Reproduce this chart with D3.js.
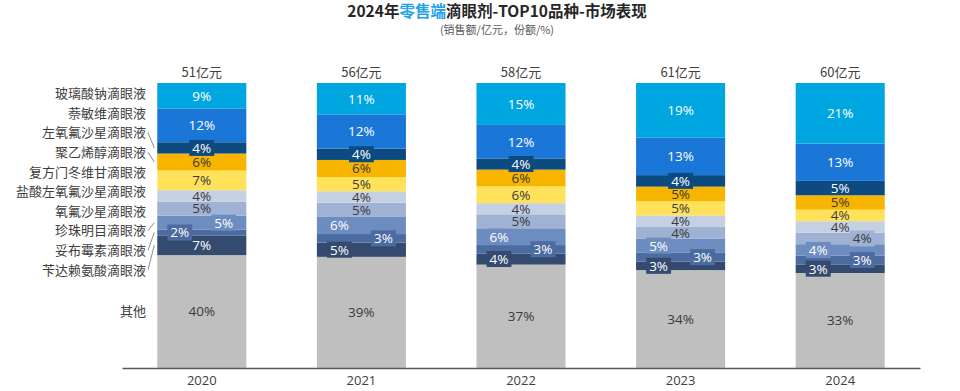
<!DOCTYPE html>
<html>
<head>
<meta charset="utf-8">
<script src="https://cdn.jsdelivr.net/npm/d3@7"></script>
<style>
  body { margin: 0; background: #fff; }
  svg { display: block; font-family: "Noto Sans CJK SC", "Noto Sans", sans-serif; }
</style>
</head>
<body>
<figure style="margin:0"></figure>
<script>
const years = ["2020", "2021", "2022", "2023", "2024"];
const totals = [51, 56, 58, 61, 60];

// bottom to top
const series = [
  "其他",
  "苄达赖氨酸滴眼液",
  "妥布霉素滴眼液",
  "珍珠明目滴眼液",
  "氧氟沙星滴眼液",
  "盐酸左氧氟沙星滴眼液",
  "复方门冬维甘滴眼液",
  "聚乙烯醇滴眼液",
  "左氧氟沙星滴眼液",
  "萘敏维滴眼液",
  "玻璃酸钠滴眼液",
];

const shares = [
  [40, 39, 37, 34, 33],
  [7, 5, 4, 3, 3],
  [2, 3, 3, 3, 3],
  [5, 6, 6, 5, 4],
  [5, 5, 5, 4, 4],
  [4, 4, 4, 4, 4],
  [7, 5, 6, 5, 4],
  [6, 6, 6, 5, 5],
  [4, 4, 4, 4, 5],
  [12, 12, 12, 13, 13],
  [9, 11, 15, 19, 21],
];

const colors = [
  "#bfbfbf", "#344a6e", "#4b6ba1", "#6d8cbf", "#9fb2d4", "#c6d0e3",
  "#ffe25a", "#f8b500", "#0c4a7f", "#1a77d8", "#00a6e0",
];
const darkText = new Set(["其他", "氧氟沙星滴眼液", "盐酸左氧氟沙星滴眼液", "复方门冬维甘滴眼液", "聚乙烯醇滴眼液"]);

// labels pushed left (-1) or right (+1) of the bar centre
const sideLabels = {
  "2020|珍珠明目滴眼液": 1, "2020|妥布霉素滴眼液": -1,
  "2021|珍珠明目滴眼液": -1, "2021|妥布霉素滴眼液": 1, "2021|苄达赖氨酸滴眼液": -1,
  "2022|珍珠明目滴眼液": -1, "2022|妥布霉素滴眼液": 1, "2022|苄达赖氨酸滴眼液": -1,
  "2023|珍珠明目滴眼液": -1, "2023|妥布霉素滴眼液": 1, "2023|苄达赖氨酸滴眼液": -1,
  "2024|氧氟沙星滴眼液": 1, "2024|珍珠明目滴眼液": -1, "2024|妥布霉素滴眼液": 1, "2024|苄达赖氨酸滴眼液": -1,
};
const leaderKeys = ["左氧氟沙星滴眼液", "聚乙烯醇滴眼液", "珍珠明目滴眼液", "妥布霉素滴眼液", "苄达赖氨酸滴眼液"];

const width = 960;
const height = 391;

const svg = d3.select("figure").append("svg").attr("width", width).attr("height", height);

const x = d3.scaleBand().domain(years).range([122, 920]).paddingInner(0.442).paddingOuter(0.221);
const y = d3.scaleLinear().domain([0, 1]).range([368, 83]);

const table = years.map((yr, i) => {
  const row = { year: yr };
  series.forEach((s, j) => (row[s] = shares[j][i]));
  return row;
});

const stacked = d3.stack().keys(series).offset(d3.stackOffsetExpand)(table);

// title
const title = svg.append("text")
  .attr("x", 497).attr("y", 17)
  .attr("text-anchor", "middle")
  .style("font-size", "15.5px").style("font-weight", "bold").style("fill", "#262626");
title.append("tspan").text("2024年");
title.append("tspan").text("零售端").style("fill", "#1ea2e6");
title.append("tspan").text("滴眼剂-TOP10品种-市场表现");

svg.append("text")
  .attr("x", 497).attr("y", 34)
  .attr("text-anchor", "middle")
  .style("font-size", "11px").style("fill", "#595959")
  .text("(销售额/亿元，份额/%)");

// bars
svg.append("g")
  .selectAll("g")
  .data(stacked)
  .join("g")
  .attr("fill", (d, i) => colors[i])
  .selectAll("rect")
  .data((d) => d)
  .join("rect")
  .attr("x", (d) => x(d.data.year))
  .attr("y", (d) => y(d[1]))
  .attr("width", x.bandwidth())
  .attr("height", (d) => y(d[0]) - y(d[1]));

// value labels
const labelLayer = svg.append("g").style("font-family", "'Open Sans', 'Noto Sans', sans-serif").style("font-size", "13.5px");
stacked.forEach((layer, i) => {
  const key = layer.key;
  layer.forEach((d, j) => {
    const yr = d.data.year;
    const side = sideLabels[yr + "|" + key] || 0;
    const cx = x(yr) + x.bandwidth() / 2 + side * 22;
    const cy = (y(d[0]) + y(d[1])) / 2;
    const segH = y(d[0]) - y(d[1]);
    const g = labelLayer.append("g");
    const t = g.append("text")
      .attr("x", cx).attr("y", cy).attr("dy", "0.36em")
      .attr("text-anchor", "middle")
      .style("fill", darkText.has(key) ? "#3a3a3a" : "#ffffff")
      .text(shares[i][j] + "%");
    if (side !== 0 || (segH < 14 && !darkText.has(key))) {
      const w = t.node().getComputedTextLength() + 6;
      g.insert("rect", "text")
        .attr("x", cx - w / 2).attr("y", cy - 8)
        .attr("width", w).attr("height", 16)
        .attr("fill", colors[i]);
    }
  });
});

// totals
svg.append("g")
  .selectAll("text")
  .data(years)
  .join("text")
  .attr("x", (d) => x(d) + x.bandwidth() / 2)
  .attr("y", 77)
  .attr("text-anchor", "middle")
  .style("font-size", "13px").style("fill", "#404040")
  .text((d, i) => totals[i] + "亿元");

// x axis
const xAxis = svg.append("g")
  .attr("transform", `translate(0, ${y(0)})`)
  .call(d3.axisBottom(x).tickSize(0).tickPadding(8));
xAxis.select(".domain").attr("stroke", "#595959").attr("stroke-width", 1.5);
xAxis.selectAll(".tick text")
  .style("font-family", "'Open Sans', 'Noto Sans', sans-serif")
  .style("font-size", "13px").style("fill", "#404040");

// series names beside the first bar, dodged so they do not overlap
const first = years[0];
const items = stacked.map((layer) => {
  const d = layer[0];
  return { key: layer.key, target: (y(d[0]) + y(d[1])) / 2 };
}).sort((a, b) => a.target - b.target);

const gap = 19.6;
let clusters = [];
items.forEach((it) => {
  clusters.push({ items: [it], mean: it.target });
  while (clusters.length > 1) {
    const b = clusters[clusters.length - 1];
    const a = clusters[clusters.length - 2];
    const aTop = a.mean - ((a.items.length - 1) * gap) / 2;
    const bTop = b.mean - ((b.items.length - 1) * gap) / 2;
    if (aTop + a.items.length * gap > bTop) {
      const merged = a.items.concat(b.items);
      clusters.splice(-2, 2, { items: merged, mean: d3.mean(merged, (m) => m.target) });
    } else break;
  }
});
clusters.forEach((c) => {
  const top = c.mean - ((c.items.length - 1) * gap) / 2;
  c.items.forEach((it, k) => (it.pos = top + k * gap));
});

const legend = svg.append("g");
legend.selectAll("text")
  .data(items)
  .join("text")
  .attr("x", 146)
  .attr("y", (d) => d.pos)
  .attr("dy", "0.36em")
  .attr("text-anchor", "end")
  .style("font-size", "13px").style("fill", "#404040")
  .text((d) => d.key);

legend.selectAll("line")
  .data(items.filter((d) => leaderKeys.includes(d.key)))
  .join("line")
  .attr("x1", 148).attr("y1", (d) => d.pos)
  .attr("x2", x(first) - 3).attr("y2", (d) => d.target)
  .attr("stroke", "#7f7f7f").attr("stroke-width", 0.9);
</script>
</body>
</html>
